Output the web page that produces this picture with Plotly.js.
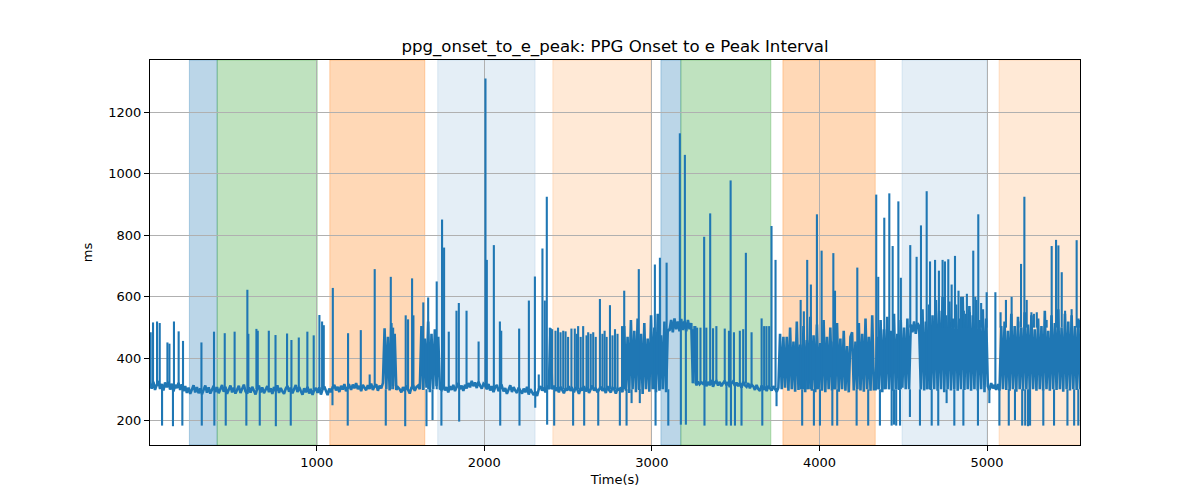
<!DOCTYPE html>
<html>
<head>
<meta charset="utf-8">
<script src="https://cdn.plot.ly/plotly-3.0.1.min.js"></script>
<style>
  html, body { margin: 0; padding: 0; background: #ffffff; }
  #chart { width: 1200px; height: 500px; }
</style>
</head>
<body>
<div id="chart"></div>
<script>
// sample times (s), one row = 100 s
const timeSec = [
  5, 15, 25, 35, 45, 55, 65, 75, 85, 95,
  105, 115, 125, 135, 145, 155, 165, 175, 185, 195,
  205, 215, 225, 235, 245, 255, 265, 275, 285, 295,
  305, 315, 325, 335, 345, 355, 365, 375, 385, 395,
  405, 415, 425, 435, 445, 455, 465, 475, 485, 495,
  505, 515, 525, 535, 545, 555, 565, 575, 585, 595,
  605, 615, 625, 635, 645, 655, 665, 675, 685, 695,
  705, 715, 725, 735, 745, 755, 765, 775, 785, 795,
  805, 815, 825, 835, 845, 855, 865, 875, 885, 895,
  905, 915, 925, 935, 945, 955, 965, 975, 985, 995,
  1005, 1015, 1025, 1035, 1045, 1055, 1065, 1075, 1085, 1095,
  1105, 1115, 1125, 1135, 1145, 1155, 1165, 1175, 1185, 1195,
  1205, 1215, 1225, 1235, 1245, 1255, 1265, 1275, 1285, 1295,
  1305, 1315, 1325, 1335, 1345, 1355, 1365, 1375, 1385, 1395,
  1405, 1415, 1425, 1435, 1445, 1455, 1465, 1475, 1485, 1495,
  1505, 1515, 1525, 1535, 1545, 1555, 1565, 1575, 1585, 1595,
  1605, 1615, 1625, 1635, 1645, 1655, 1665, 1675, 1685, 1695,
  1705, 1715, 1725, 1735, 1745, 1755, 1765, 1775, 1785, 1795,
  1805, 1815, 1825, 1835, 1845, 1855, 1865, 1875, 1885, 1895,
  1905, 1915, 1925, 1935, 1945, 1955, 1965, 1975, 1985, 1995,
  2005, 2015, 2025, 2035, 2045, 2055, 2065, 2075, 2085, 2095,
  2105, 2115, 2125, 2135, 2145, 2155, 2165, 2175, 2185, 2195,
  2205, 2215, 2225, 2235, 2245, 2255, 2265, 2275, 2285, 2295,
  2305, 2315, 2325, 2335, 2345, 2355, 2365, 2375, 2385, 2395,
  2405, 2415, 2425, 2435, 2445, 2455, 2465, 2475, 2485, 2495,
  2505, 2515, 2525, 2535, 2545, 2555, 2565, 2575, 2585, 2595,
  2605, 2615, 2625, 2635, 2645, 2655, 2665, 2675, 2685, 2695,
  2705, 2715, 2725, 2735, 2745, 2755, 2765, 2775, 2785, 2795,
  2805, 2815, 2825, 2835, 2845, 2855, 2865, 2875, 2885, 2895,
  2905, 2915, 2925, 2935, 2945, 2955, 2965, 2975, 2985, 2995,
  3005, 3015, 3025, 3035, 3045, 3055, 3065, 3075, 3085, 3095,
  3105, 3115, 3125, 3135, 3145, 3155, 3165, 3175, 3185, 3195,
  3205, 3215, 3225, 3235, 3245, 3255, 3265, 3275, 3285, 3295,
  3305, 3315, 3325, 3335, 3345, 3355, 3365, 3375, 3385, 3395,
  3405, 3415, 3425, 3435, 3445, 3455, 3465, 3475, 3485, 3495,
  3505, 3515, 3525, 3535, 3545, 3555, 3565, 3575, 3585, 3595,
  3605, 3615, 3625, 3635, 3645, 3655, 3665, 3675, 3685, 3695,
  3705, 3715, 3725, 3735, 3745, 3755, 3765, 3775, 3785, 3795,
  3805, 3815, 3825, 3835, 3845, 3855, 3865, 3875, 3885, 3895,
  3905, 3915, 3925, 3935, 3945, 3955, 3965, 3975, 3985, 3995,
  4005, 4015, 4025, 4035, 4045, 4055, 4065, 4075, 4085, 4095,
  4105, 4115, 4125, 4135, 4145, 4155, 4165, 4175, 4185, 4195,
  4205, 4215, 4225, 4235, 4245, 4255, 4265, 4275, 4285, 4295,
  4305, 4315, 4325, 4335, 4345, 4355, 4365, 4375, 4385, 4395,
  4405, 4415, 4425, 4435, 4445, 4455, 4465, 4475, 4485, 4495,
  4505, 4515, 4525, 4535, 4545, 4555, 4565, 4575, 4585, 4595,
  4605, 4615, 4625, 4635, 4645, 4655, 4665, 4675, 4685, 4695,
  4705, 4715, 4725, 4735, 4745, 4755, 4765, 4775, 4785, 4795,
  4805, 4815, 4825, 4835, 4845, 4855, 4865, 4875, 4885, 4895,
  4905, 4915, 4925, 4935, 4945, 4955, 4965, 4975, 4985, 4995,
  5005, 5015, 5025, 5035, 5045, 5055, 5065, 5075, 5085, 5095,
  5105, 5115, 5125, 5135, 5145, 5155, 5165, 5175, 5185, 5195,
  5205, 5215, 5225, 5235, 5245, 5255, 5265, 5275, 5285, 5295,
  5305, 5315, 5325, 5335, 5345, 5355, 5365, 5375, 5385, 5395,
  5405, 5415, 5425, 5435, 5445, 5455, 5465, 5475, 5485, 5495,
  5505, 5515, 5525, 5535, 5545, 5555
];

// onset -> e peak interval (ms) at timeSec, same rows
const intervalMs = [
  318, 302, 324, 298, 314, 327, 301, 317, 296, 322,
  306, 324, 299, 318, 293, 314, 304, 321, 298, 316,
  294, 310, 288, 305, 285, 301, 313, 290, 307, 287,
  303, 284, 300, 312, 289, 306, 286, 302, 311, 291,
  307, 287, 302, 314, 292, 308, 285, 301, 312, 290,
  305, 286, 299, 311, 288, 304, 315, 293, 286, 306,
  289, 308, 294, 283, 302, 312, 290, 306, 287, 300,
  310, 291, 303, 285, 307, 294, 313, 288, 304, 293,
  285, 302, 311, 292, 305, 287, 300, 314, 291, 307,
  294, 282, 303, 290, 308, 286, 301, 282, 297, 304,
  288, 306, 283, 300, 309, 292, 281, 302, 290, 307,
  314, 296, 308, 291, 311, 299, 317, 294, 306, 312,
  298, 315, 303, 320, 300, 311, 294, 314, 304, 297,
  313, 301, 318, 298, 310, 316, 295, 312, 303, 320,
  498, 300, 470, 296, 515, 310, 480, 298, 306, 300,
  290, 307, 294, 312, 298, 286, 305, 313, 295, 307,
  312, 300, 505, 298, 465, 305, 520, 290, 480, 300,
  495, 310, 470, 302, 298, 314, 296, 307, 290, 310,
  298, 314, 294, 310, 320, 300, 312, 295, 314, 303,
  320, 306, 327, 310, 322, 304, 324, 312, 302, 318,
  312, 300, 317, 296, 310, 291, 307, 314, 294, 305,
  310, 293, 304, 285, 302, 313, 291, 307, 296, 288,
  305, 293, 286, 302, 290, 308, 283, 300, 288, 281,
  292, 278, 300, 310, 296, 305, 290, 312, 300, 498,
  300, 312, 295, 305, 290, 308, 298, 287, 303, 296,
  310, 295, 302, 290, 306, 299, 285, 304, 296, 310,
  293, 305, 288, 300, 312, 296, 304, 290, 299, 308,
  295, 303, 288, 310, 297, 290, 305, 300, 286, 302,
  298, 306, 290, 505, 295, 470, 288, 525, 300, 490,
  290, 530, 298, 480, 285, 515, 300, 465, 292, 540,
  300, 500, 290, 545, 295, 475, 300, 520, 290, 495,
  490, 525, 485, 530, 495, 520, 488, 528, 492, 522,
  488, 525, 495, 515, 320, 505, 312, 325, 316, 322,
  318, 328, 310, 324, 313, 330, 308, 322, 327, 312,
  324, 310, 320, 328, 313, 323, 307, 320, 326, 311,
  322, 310, 320, 305, 324, 313, 308, 320, 303, 315,
  310, 298, 314, 301, 295, 312, 298, 308, 294, 311,
  303, 296, 310, 300, 292, 305, 480, 300, 470, 305,
  470, 295, 500, 300, 455, 292, 520, 298, 445, 300,
  505, 290, 460, 300, 535, 295, 475, 290, 510, 300,
  450, 295, 525, 290, 470, 300, 500, 296, 455, 300,
  515, 292, 465, 300, 490, 295, 440, 290, 470, 485,
  296, 455, 300, 515, 296, 480, 292, 530, 300, 470,
  295, 540, 300, 300, 470, 300, 525, 290, 495, 300,
  535, 300, 490, 295, 545, 300, 480, 298, 525, 305,
  500, 300, 530, 300, 510, 485, 520, 480, 515, 505,
  300, 560, 296, 520, 300, 575, 298, 540, 300, 590,
  295, 555, 300, 600, 290, 540, 300, 585, 296, 530,
  300, 575, 295, 530, 300, 600, 298, 545, 300, 570,
  295, 540, 300, 590, 296, 525, 300, 560, 290, 530,
  310, 298, 320, 303, 314, 298, 317, 296, 505, 300,
  520, 298, 490, 295, 545, 300, 505, 292, 535, 300,
  500, 295, 550, 300, 510, 298, 540, 300, 495, 295,
  530, 300, 505, 296, 555, 300, 490, 295, 540, 300,
  515, 298, 560, 300, 500, 292, 545, 300, 520, 296,
  540, 300, 505, 298, 530, 300
];

// single-beat excursions: time (s), level before (ms), excursion value (ms)
const spikeSec = [
  9, 23, 47, 63, 77, 109, 121, 142, 148, 176, 198, 202,
  312, 314, 387, 389, 451, 457, 510, 580, 586, 592, 640, 648, 660, 714, 754, 756,
  823, 845, 849, 893, 944, 982,
  1016, 1032, 1042, 1094, 1096, 1185, 1187, 1263, 1316, 1346, 1412, 1442, 1456,
  1528, 1531, 1545, 1569, 1577, 1636, 1655, 1665, 1691, 1716, 1744, 1748, 1760, 1788,
  1834, 1848, 1850, 1894, 1966,
  2007, 2015, 2057, 2093, 2095, 2101, 2208, 2210, 2266, 2302, 2304, 2325, 2347, 2361, 2373, 2375,
  2391, 2405, 2417, 2425, 2440, 2455, 2471, 2485, 2500, 2520, 2530, 2540, 2552, 2560, 2575, 2590, 2596,
  2610, 2620, 2635, 2650, 2665, 2680, 2690, 2705, 2718, 2730, 2750, 2765, 2780, 2795,
  2809, 2822, 2835, 2849, 2879, 2922, 2928, 3018, 3022, 3048, 3088, 3098,
  3167, 3173, 3197, 3203,
  3245, 3260, 3270, 3290, 3312, 3314, 3325, 3348, 3365, 3385, 3435, 3445, 3460, 3470, 3472, 3490, 3496,
  3525, 3535, 3545, 3561, 3595, 3655, 3659, 3670, 3684, 3700, 3714, 3738, 3744,
  3888, 3897, 3907, 3927, 3949, 3967, 3985, 4003, 4013, 4077, 4083, 4093, 4106, 4222, 4226, 4291,
  4339, 4351, 4361, 4387, 4417, 4431, 4437, 4445, 4458, 4471, 4481, 4486, 4540, 4542, 4580,
  4600, 4606, 4640, 4660, 4670, 4690, 4709, 4713, 4735, 4749, 4759, 4769, 4789,
  4805, 4809, 4830, 4845, 4859, 4862, 4880, 4898, 4918, 4930, 4946, 4948, 4965, 4998,
  5014, 5050, 5074, 5081, 5113, 5130, 5147, 5167, 5187, 5203, 5210, 5223, 5228, 5237, 5245, 5257,
  5265, 5280, 5297, 5336, 5356, 5386, 5400, 5412, 5426, 5446, 5466, 5480, 5505, 5520, 5535, 5545, 5552
];
const spikeFromMs = [
  312, 305, 310, 312, 305, 315, 310, 305, 300, 312, 305, 300,
  296, 296, 300, 300, 300, 300, 300, 300, 300, 300, 300, 300, 300, 300, 300, 300,
  300, 300, 300, 300, 300, 300,
  295, 300, 300, 300, 300, 300, 300, 305, 308, 305, 300, 300, 300,
  300, 300, 300, 300, 300, 300, 300, 300, 300, 300, 300, 300, 300, 300,
  305, 305, 305, 305, 315,
  310, 310, 300, 300, 300, 300, 300, 300, 300, 290, 290, 300, 300, 300, 300, 300,
  300, 300, 300, 300, 300, 300, 300, 300, 300, 300, 300, 300, 300, 300, 300, 300, 300,
  300, 300, 300, 300, 300, 300, 300, 300, 300, 300, 300, 300, 300, 300,
  300, 300, 300, 300, 300, 300, 300, 300, 300, 300, 300, 300,
  505, 505, 505, 505,
  320, 318, 318, 320, 318, 318, 318, 318, 318, 318, 318, 318, 318, 318, 318, 318, 318,
  318, 318, 318, 318, 310, 305, 305, 305, 305, 305, 305, 305, 305,
  300, 300, 300, 300, 300, 300, 300, 300, 300, 300, 300, 300, 300, 300, 300, 300,
  300, 300, 300, 300, 300, 300, 300, 300, 300, 300, 300, 300, 300, 500, 500,
  300, 300, 300, 300, 300, 500, 300, 500, 500, 500, 300, 500, 500,
  300, 500, 500, 500, 300, 500, 500, 500, 500, 500, 300, 500, 500, 500,
  300, 300, 300, 500, 500, 300, 500, 300, 500, 500, 300, 500, 300, 500, 300, 300,
  500, 500, 500, 300, 500, 500, 300, 500, 500, 500, 500, 300, 500, 300, 500, 300, 500
];
const spikeToMs = [
  485, 517, 520, 515, 182, 452, 448, 180, 520, 488, 182, 457,
  452, 182, 487, 182, 482, 182, 487, 182, 623, 480, 496, 490, 182, 490, 476, 180,
  481, 182, 460, 468, 487, 475,
  541, 520, 508, 248, 629, 182, 482, 492, 348, 690, 182, 665, 500,
  180, 540, 527, 660, 540, 582, 180, 598, 200, 650, 182, 851, 760, 487,
  555, 580, 195, 555, 455,
  1309, 720, 768, 520, 182, 490, 497, 182, 588, 666, 240, 348, 757, 588, 925, 185,
  500, 495, 182, 490, 500, 485, 490, 488, 470, 497, 182, 497, 480, 505, 470, 505, 182,
  475, 485, 480, 485, 470, 182, 593, 480, 490, 470, 573, 475, 495, 480,
  182, 505, 620, 182, 255, 690, 255, 705, 182, 727, 711, 182,
  1131, 185, 1061, 185,
  495, 505, 500, 500, 795, 182, 500, 871, 498, 505, 497, 182, 490, 978, 182, 485, 182,
  490, 182, 495, 743, 485, 530, 182, 505, 505, 505, 830, 720, 245,
  590, 182, 553, 720, 640, 182, 868, 182, 750, 182, 742, 620, 182, 182, 695, 182,
  932, 665, 182, 857, 936, 182, 765, 185, 182, 910, 182, 662, 210, 768, 730,
  182, 832, 943, 715, 182, 720, 182, 685, 720, 715, 255, 722, 640,
  182, 733, 620, 600, 182, 555, 610, 550, 750, 600, 182, 868, 580, 615,
  255, 615, 182, 550, 590, 182, 600, 200, 520, 707, 182, 925, 182, 590, 180, 182,
  550, 545, 550, 182, 525, 765, 182, 785, 767, 680, 555, 182, 560, 182, 784, 182, 525
];

// protocol phases shaded behind the trace
const phaseStart = [240, 406, 1078, 1722, 2409, 3054, 3173, 3782, 4493, 5072];
const phaseEnd   = [406, 1003, 1645, 2303, 2994, 3173, 3710, 4333, 5000, 5560];
const phaseColor = [
  'rgba(31,119,180,0.3)', 'rgba(44,160,44,0.3)', 'rgba(255,127,14,0.3)',
  'rgba(31,119,180,0.12)', 'rgba(255,127,14,0.17)',
  'rgba(31,119,180,0.3)', 'rgba(44,160,44,0.3)', 'rgba(255,127,14,0.3)',
  'rgba(31,119,180,0.12)', 'rgba(255,127,14,0.17)'
];

const xTicks = [1000, 2000, 3000, 4000, 5000];
const yTicks = [200, 400, 600, 800, 1000, 1200];

const lineColor = '#1f77b4';

const phaseShapes = phaseStart.map((x0, i) => ({
    type: 'rect',
    xref: 'x',
    yref: 'paper',
    x0: x0,
    x1: phaseEnd[i],
    y0: 0,
    y1: 1,
    fillcolor: phaseColor[i],
    line: { color: phaseColor[i], width: 1 },
    layer: 'below'
}));

// each excursion becomes a vertical stroke, separated by gaps
let spikeX = [];
let spikeY = [];
for (let i = 0; i < spikeSec.length; i++) {
    spikeX.push(spikeSec[i], spikeSec[i], null);
    spikeY.push(spikeFromMs[i], spikeToMs[i], null);
}

const mainTrace = {
    x: timeSec,
    y: intervalMs,
    type: 'scatter',
    mode: 'lines',
    line: { color: lineColor, width: 2.6 }
};

const spikeTrace = {
    x: spikeX,
    y: spikeY,
    type: 'scatter',
    mode: 'lines',
    connectgaps: false,
    line: { color: lineColor, width: 2.1 }
};

const axisStyle = {
    showline: true,
    linecolor: '#000000',
    linewidth: 1,
    mirror: true,
    ticks: 'outside',
    ticklen: 5,
    tickwidth: 1,
    tickcolor: '#000000',
    showgrid: true,
    gridcolor: '#b0b0b0',
    gridwidth: 1,
    zeroline: false,
    tickfont: { family: 'DejaVu Sans', size: 13, color: '#000000' }
};

const layout = {
    width: 1200,
    height: 500,
    margin: { l: 150, r: 120, t: 60, b: 55 },
    paper_bgcolor: '#ffffff',
    plot_bgcolor: '#ffffff',
    showlegend: false,
    font: { family: 'DejaVu Sans', color: '#000000' },
    title: {
        text: 'ppg_onset_to_e_peak: PPG Onset to e Peak Interval',
        font: { family: 'DejaVu Sans', size: 16.6, color: '#000000' },
        x: 0.5125,
        xanchor: 'center',
        y: 0.907,
        yanchor: 'middle'
    },
    xaxis: Object.assign({}, axisStyle, {
        range: [5, 5555],
        tickvals: xTicks,
        title: { text: 'Time(s)', font: { family: 'DejaVu Sans', size: 13 }, standoff: 6 }
    }),
    yaxis: Object.assign({}, axisStyle, {
        range: [119, 1369],
        tickvals: yTicks,
        title: { text: 'ms', font: { family: 'DejaVu Sans', size: 13 }, standoff: 12 }
    }),
    shapes: phaseShapes
};

Plotly.newPlot('chart', [mainTrace, spikeTrace], layout, { displayModeBar: false, staticPlot: true });
</script>
</body>
</html>
